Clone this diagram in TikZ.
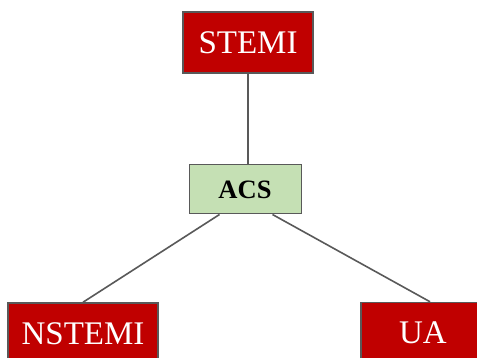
\documentclass[tikz,border=0pt]{standalone}
\usepackage{fontspec}
\setmainfont{Liberation Serif}
\usetikzlibrary{calc}
\definecolor{boxred}{HTML}{C00000}
\definecolor{boxgreen}{HTML}{C5E0B4}
\definecolor{edgegrey}{HTML}{595959}
\begin{document}
\begin{tikzpicture}[x=1pt,y=-1pt,
  redbox/.style={draw=edgegrey,line width=1.5pt,fill=boxred,text=white,
    inner sep=0pt,font=\fontsize{33}{33}\selectfont},
  greenbox/.style={draw=edgegrey,line width=1pt,fill=boxgreen,text=black,
    inner sep=0pt,font=\fontsize{26.5}{26.5}\selectfont\bfseries},
  link/.style={draw=edgegrey,line width=1.6pt}]
\useasboundingbox (0,0) rectangle (477,358);
\clip (0,0) rectangle (477,358);
\node[redbox,minimum width=130pt,minimum height=61pt] (stemi) at (248,42.5) {STEMI};
\node[greenbox,minimum width=112pt,minimum height=49pt] (acs) at (245,189.5) {ACS};
\node[redbox,minimum width=150pt,minimum height=61pt] (nstemi) at (83,333.5) {NSTEMI};
\node[redbox,minimum width=124pt,minimum height=61pt] (ua) at (423,333) {UA};
\draw[link] (stemi.south) -- (stemi.south |- acs.north);
\draw[link] ($(acs.south west)+(31,0)$) -- (nstemi.north);
\draw[link] ($(acs.south west)+(84,0)$) -- ($(ua.north)+(7,0)$);
\end{tikzpicture}
\end{document}
